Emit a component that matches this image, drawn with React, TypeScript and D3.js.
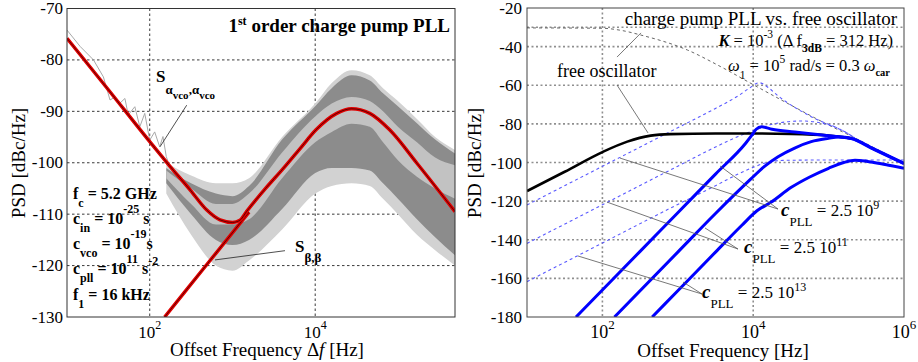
import React from 'react';
import * as d3 from 'd3';

type P = [number, number];
const FONT = '"Liberation Serif", "Times New Roman", serif';

// ---------- Left panel: [log10(offset frequency / Hz), PSD dBc/Hz]
const leftTotal: P[] = [[1.0,-75.8],[1.5,-85.8],[2.0,-95.9],[2.24,-100.6],[2.49,-105.3],[2.69,-109.2],[2.85,-111.1],[3.0,-111.6],[3.09,-111.2],[3.17,-109.5],[3.4,-105.0],[3.61,-101.2],[3.82,-97.2],[4.01,-93.6],[4.26,-90.4],[4.44,-89.5],[4.66,-90.4],[4.9,-93.6],[5.23,-100.1],[5.69,-109.5]];
const leftSbb: P[] = [[2.18,-130],[2.7,-119.6],[3.2,-109.6]];
const leftSimLow: P[] = [[1.0,-74.2],[1.16,-77.4],[1.32,-80],[1.44,-83.3],[1.52,-87.8],[1.58,-87.2],[1.64,-88.4],[1.7,-87.5],[1.74,-90.7],[1.82,-89.1],[1.88,-93],[1.94,-90.4],[2.0,-95.6],[2.06,-94],[2.12,-96.9],[2.16,-94.9],[2.2,-98.8],[2.25,-101.1]];
const leftBandL = [2.2, 2.5, 2.8, 3.0, 3.2, 3.6, 4.0, 4.2, 4.44, 4.66, 4.82, 5.0, 5.23, 5.45, 5.69];
const leftOuterTop = [-100, -102.5, -104, -104, -103, -95, -88.5, -84.5, -82, -83, -85.5, -88, -91.5, -95, -97.5];
const leftDarkTop = [-101, -104, -106, -106.5, -104.5, -95.5, -89, -85.5, -83, -84, -86.5, -89, -92.3, -95.5, -98.2];
const leftLightTop = [-101.5, -105, -108, -108, -106, -98, -91, -88.5, -87.2, -88, -90, -93, -96, -99, -100.5];
const leftLightBottom = [-103, -108, -112, -112, -111, -103, -96, -94, -92.4, -93, -96, -99.5, -102.7, -105, -107];
const leftDarkBottom = [-104, -110, -115, -116, -115, -109, -102, -101, -101, -101.5, -104, -107, -111, -114.5, -118];
const leftOuterBottom = [-106, -114, -120, -121, -119, -113, -106, -104.5, -104, -104.5, -107, -110, -114, -117, -120];
const leftYTicks = [-70, -80, -90, -100, -110, -120, -130];
const leftXTickExp = [2, 4];
// leader lines [from, to] in data units
const leftLeaders: [P, P][] = [[[2.447,-88.8],[2.124,-96.9]],[[3.635,-117.1],[2.789,-118.9]]];

// ---------- Right panel
const rightFree: P[] = [[1.0,-114.8],[1.5,-104.8],[2.0,-94.6],[2.33,-89.2],[2.64,-86.1],[2.9,-85.3],[3.5,-85],[4.0,-85],[4.5,-85.2],[5.0,-86],[5.3,-87.5]];
const rightLorentz: P[] = [[1.0,-30.3],[2.0,-30.5],[2.25,-31.6],[2.51,-34],[3.13,-41.8],[3.57,-50.4],[4.01,-59.9],[4.5,-70.3],[5.0,-80.6],[5.35,-87.3],[5.7,-94.3],[6.0,-100.4]];
const rightD1: P[] = [[1.0,-122],[2.0,-102],[3.0,-82],[3.5,-72],[3.8,-65.5],[3.95,-61.5],[4.08,-58.7],[4.2,-61.2],[4.33,-65.5],[4.77,-76.3],[5.21,-84],[5.35,-87.3]];
const rightD2: P[] = [[1.0,-141.9],[2.0,-121.9],[3.0,-101.9],[3.5,-92],[3.8,-86.5],[4.0,-83.5],[4.3,-79.8],[4.64,-78.5],[5.0,-80.5],[5.21,-84],[5.35,-87.3]];
const rightD3: P[] = [[1.0,-161.7],[2.0,-141.7],[3.0,-121.7],[3.5,-112],[3.8,-106],[4.0,-102.5],[4.2,-99.8],[4.4,-98.9],[5.0,-98.7],[6.0,-98.7]];
const rightB1: P[] = [[1.65,-180],[2.5,-146],[3.0,-126],[3.5,-106],[3.9,-90],[3.98,-86],[4.04,-82.8],[4.11,-81.5],[4.25,-82.8],[4.55,-84.2],[5.0,-86.2],[5.3,-87.5],[5.6,-93],[6.0,-100.4]];
const rightB2: P[] = [[2.16,-180],[3.0,-146.4],[3.5,-126.4],[3.97,-108.5],[4.15,-102],[4.33,-97],[4.55,-92.5],[4.77,-89.2],[5.0,-87.5],[5.13,-86.8],[5.3,-87.6],[5.6,-93.2],[6.0,-100.6]];
const rightB3: P[] = [[2.66,-180],[3.0,-166.4],[3.5,-146.4],[3.85,-132.5],[4.05,-125],[4.24,-120.5],[4.5,-113],[4.75,-107.5],[5.0,-103],[5.2,-100],[5.35,-98.8],[5.5,-99.3],[5.75,-101],[6.0,-103]];
const rightYTicks = [-20, -40, -60, -80, -100, -120, -140, -160, -180];
const rightRefLevel = -30;
const rightXTickExp = [2, 4, 6];
const rightLeaders: [P, P][] = [
  [[2.194,-45.4],[2.512,-32.9]],
  [[2.194,-59.9],[2.605,-84.7]],
  [[2.233,-97.7],[4.329,-124.1]],
  [[3.56,-101.8],[4.329,-124.1]],
  [[2.061,-120.5],[3.798,-144.8]],
  [[3.361,-133.9],[3.798,-144.8]],
  [[1.676,-148.4],[3.321,-168.1]],
  [[3.069,-161.9],[3.321,-168.1]],
];

export default function App() {
  const xL = d3.scaleLog().domain([10, 10 ** 5.69]).range([67, 455]);
  const yL = d3.scaleLinear().domain([-130, -70]).range([317, 8.5]);
  const xR = d3.scaleLog().domain([10, 1e6]).range([527, 904]);
  const yR = d3.scaleLinear().domain([-180, -20]).range([317, 8]);

  const lineL = d3.line<P>().x(d => xL(10 ** d[0])).y(d => yL(d[1])).curve(d3.curveMonotoneX);
  const lineLlin = d3.line<P>().x(d => xL(10 ** d[0])).y(d => yL(d[1]));
  const lineR = d3.line<P>().x(d => xR(10 ** d[0])).y(d => yR(d[1])).curve(d3.curveMonotoneX);
  const idx = leftBandL.map((_, i) => i);
  const band = (top: number[], bot: number[]) =>
    d3.area<number>().x(i => xL(10 ** leftBandL[i])).y0(i => yL(bot[i])).y1(i => yL(top[i])).curve(d3.curveMonotoneX)(idx) || '';

  const [lx0, lx1] = xL.range();
  const [ly1, ly0] = yL.range();
  const [rx0, rx1] = xR.range();
  const [ry1, ry0] = yR.range();

  return (
    <svg width={918} height={362} style={{ position: 'absolute', left: 0, top: 0, background: '#fff' }} fontFamily={FONT}>
      <defs>
        <clipPath id="clipL"><rect x={lx0} y={ly0} width={lx1 - lx0} height={ly1 - ly0} /></clipPath>
        <clipPath id="clipR"><rect x={rx0} y={ry0} width={rx1 - rx0} height={ry1 - ry0} /></clipPath>
      </defs>

      {/* ================= LEFT PANEL ================= */}
      <g>
        {leftYTicks.slice(1, -1).map(t => (
          <line key={t} x1={lx0} x2={lx1} y1={yL(t)} y2={yL(t)} stroke="#222" strokeWidth={0.9} strokeDasharray="2.5,2.5" />
        ))}
        {leftXTickExp.map(e => (
          <line key={e} x1={xL(10 ** e)} x2={xL(10 ** e)} y1={ly0} y2={ly1} stroke="#222" strokeWidth={0.9} strokeDasharray="2.5,2.5" />
        ))}
        <g clipPath="url(#clipL)">
          <path d={band(leftOuterTop, leftOuterBottom)} fill="#d2d2d2" />
          <path d={band(leftDarkTop, leftDarkBottom)} fill="#8c8c8c" />
          <path d={band(leftLightTop, leftLightBottom)} fill="#c2c2c2" />
          <path d={lineLlin(leftSimLow) || ''} fill="none" stroke="#a8a8a8" strokeWidth={1} />
          <path d={lineL(leftSbb) || ''} fill="none" stroke="#e00000" strokeWidth={3.5} />
          <path d={lineL(leftSbb) || ''} fill="none" stroke="#3a0000" strokeWidth={0.8} />
          <path d={lineL(leftTotal) || ''} fill="none" stroke="#e00000" strokeWidth={3.5} />
          <path d={lineL(leftTotal) || ''} fill="none" stroke="#3a0000" strokeWidth={0.8} />
        </g>
        {leftLeaders.map((l, i) => (
          <line key={i} x1={xL(10 ** l[0][0])} y1={yL(l[0][1])} x2={xL(10 ** l[1][0])} y2={yL(l[1][1])} stroke="#222" strokeWidth={0.8} />
        ))}
        <rect x={lx0} y={ly0} width={lx1 - lx0} height={ly1 - ly0} fill="none" stroke="#333" strokeWidth={1} />

        {leftYTicks.map(t => (
          <text key={t} x={lx0 - 4} y={yL(t) + 5.5} textAnchor="end" fontSize={17}>{t}</text>
        ))}
        {leftXTickExp.map(e => (
          <text key={e} x={xL(10 ** e)} y={338} textAnchor="middle" fontSize={17}>10<tspan dy={-9} fontSize={12}>{e}</tspan></text>
        ))}
        <text x={267} y={356} textAnchor="middle" fontSize={19}>Offset Frequency Δ<tspan fontStyle="italic">f</tspan> [Hz]</text>
        <text transform="translate(25,163) rotate(-90)" textAnchor="middle" fontSize={19}>PSD [dBc/Hz]</text>

        <text x={450} y={31.5} textAnchor="end" fontSize={19} fontWeight="bold">1<tspan dy={-7} fontSize={12}>st</tspan><tspan dy={7}> order charge pump PLL</tspan></text>
        <text x={156} y={82} fontSize={17} fontWeight="bold">S<tspan dy={12} fontSize={13}>α</tspan><tspan dy={5} fontSize={11}>vco</tspan><tspan dy={-5} fontSize={13}>,α</tspan><tspan dy={5} fontSize={11}>vco</tspan></text>
        <text x={295} y={251.5} fontSize={17} fontWeight="bold">S<tspan dy={10} fontSize={13}>β,β</tspan></text>

        <g fontSize={16} fontWeight="bold">
          <text x={73} y={199}>f<tspan dy={8} fontSize={12}>c</tspan><tspan dy={-8}> = 5.2 GHz</tspan></text>
          <text x={73} y={224}>c<tspan dy={8} fontSize={12}>in</tspan><tspan dy={-8}> = 10</tspan><tspan dy={-11} fontSize={12}>-25</tspan><tspan dy={11}> s</tspan></text>
          <text x={73} y={249}>c<tspan dy={8} fontSize={12}>vco</tspan><tspan dy={-8}> = 10</tspan><tspan dy={-11} fontSize={12}>-19</tspan><tspan dy={11}>s</tspan></text>
          <text x={73} y={274}>c<tspan dy={8} fontSize={12}>pll</tspan><tspan dy={-8}> = 10</tspan><tspan dy={-11} fontSize={12}>11</tspan><tspan dy={11}> s</tspan><tspan dy={-9} fontSize={12}>-2</tspan></text>
          <text x={73} y={300}>f<tspan dy={8} fontSize={12}>1</tspan><tspan dy={-8}> = 16 kHz</tspan></text>
        </g>
      </g>

      {/* ================= RIGHT PANEL ================= */}
      <g>
        {rightYTicks.slice(1, -1).concat([rightRefLevel]).map(t => (
          <line key={t} x1={rx0} x2={rx1} y1={yR(t)} y2={yR(t)} stroke="#8f8f8f" strokeWidth={1.6} strokeDasharray="2,2.5" />
        ))}
        {rightXTickExp.slice(0, -1).map(e => (
          <line key={e} x1={xR(10 ** e)} x2={xR(10 ** e)} y1={ry0} y2={ry1} stroke="#8f8f8f" strokeWidth={1.6} strokeDasharray="2,2.5" />
        ))}
        <g clipPath="url(#clipR)">
          <path d={lineR(rightLorentz) || ''} fill="none" stroke="#666" strokeWidth={1} strokeDasharray="3,3" />
          {[rightD1, rightD2, rightD3].map((d, i) => (
            <path key={i} d={lineR(d) || ''} fill="none" stroke="#5a5aff" strokeWidth={1.1} strokeDasharray="3,3" />
          ))}
          <path d={lineR(rightFree) || ''} fill="none" stroke="#000" strokeWidth={2.6} />
          {[rightB1, rightB2, rightB3].map((d, i) => (
            <path key={i} d={lineR(d) || ''} fill="none" stroke="#0000ff" strokeWidth={3} />
          ))}
        </g>
        {rightLeaders.map((l, i) => (
          <line key={i} x1={xR(10 ** l[0][0])} y1={yR(l[0][1])} x2={xR(10 ** l[1][0])} y2={yR(l[1][1])} stroke="#555" strokeWidth={0.8} />
        ))}
        <rect x={rx0} y={ry0} width={rx1 - rx0} height={ry1 - ry0} fill="none" stroke="#444" strokeWidth={1} />

        {rightYTicks.map(t => (
          <text key={t} x={rx0 - 5} y={yR(t) + 6} textAnchor="end" fontSize={17}>{t}</text>
        ))}
        {rightXTickExp.map(e => (
          <text key={e} x={xR(10 ** e)} y={338} textAnchor="middle" fontSize={18}>10<tspan dy={-9} fontSize={13}>{e}</tspan></text>
        ))}
        <text x={723} y={357} textAnchor="middle" fontSize={19}>Offset Frequency [Hz]</text>
        <text transform="translate(481,163) rotate(-90)" textAnchor="middle" fontSize={19}>PSD [dBc/Hz]</text>

        <text x={897} y={24.5} textAnchor="end" fontSize={19}>charge pump PLL vs. free oscillator</text>
        <text x={893} y={46} textAnchor="end" fontSize={16.5}><tspan fontStyle="italic" fontWeight="bold">K</tspan> = 10<tspan dy={-8} fontSize={11.5}>-3</tspan><tspan dy={8}> (Δ f</tspan><tspan dy={6} fontSize={11.5} fontWeight="bold">3dB</tspan><tspan dy={-6}> = 312 Hz)</tspan></text>
        <text x={890} y={71} textAnchor="end" fontSize={16.5}><tspan fontStyle="italic">ω</tspan><tspan dy={8} fontSize={11.5}>1</tspan><tspan dy={-8}> = 10</tspan><tspan dy={-8} fontSize={11.5}>5</tspan><tspan dy={8}> rad/s = 0.3 </tspan><tspan fontStyle="italic">ω</tspan><tspan dy={5} fontSize={10.5} fontWeight="bold">car</tspan></text>
        <text x={557} y={76.5} fontSize={18}>free oscillator</text>

        <text x={781} y={216} fontSize={17}><tspan fontStyle="italic" fontWeight="bold" fontSize={19}>c</tspan><tspan dy={10} fontSize={13}>PLL</tspan><tspan dy={-10}> = 2.5 10</tspan><tspan dy={-7} fontSize={12}>9</tspan></text>
        <text x={744} y={253} fontSize={17}><tspan fontStyle="italic" fontWeight="bold" fontSize={19}>c</tspan><tspan dy={10} fontSize={13}>PLL</tspan><tspan dy={-10}> = 2.5 10</tspan><tspan dy={-7} fontSize={12}>11</tspan></text>
        <text x={702} y={298} fontSize={17}><tspan fontStyle="italic" fontWeight="bold" fontSize={19}>c</tspan><tspan dy={10} fontSize={13}>PLL</tspan><tspan dy={-10}> = 2.5 10</tspan><tspan dy={-7} fontSize={12}>13</tspan></text>
      </g>
    </svg>
  );
}
